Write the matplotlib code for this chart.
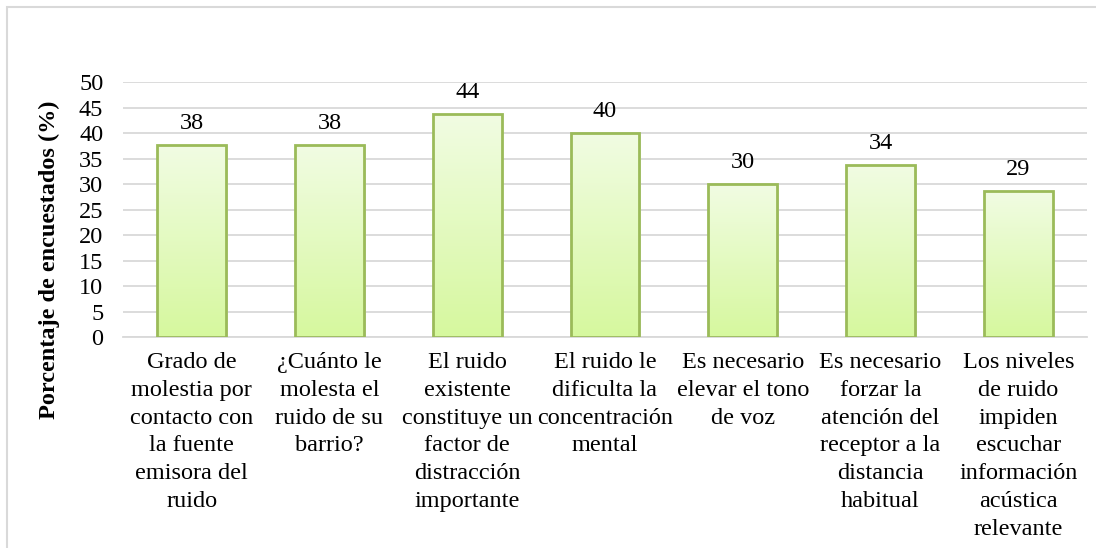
import numpy as np
import matplotlib
matplotlib.use('Agg')
import matplotlib.pyplot as plt
from matplotlib.colors import LinearSegmentedColormap
from matplotlib.patches import Rectangle

plt.rcParams['font.family'] = ['Liberation Serif', 'DejaVu Serif']

CATEGORIES = [
    'Grado de\nmolestia por\ncontacto con\nla fuente\nemisora del\nruido',
    '¿Cuánto le\nmolesta el\nruido de su\nbarrio?',
    'El ruido\nexistente\nconstituye un\nfactor de\ndistracción\nimportante',
    'El ruido le\ndificulta la\nconcentración\nmental',
    'Es necesario\nelevar el tono\nde voz',
    'Es necesario\nforzar la\natención del\nreceptor a la\ndistancia\nhabitual',
    'Los niveles\nde ruido\nimpiden\nescuchar\ninformación\nacústica\nrelevante',
]
VALUES = [37.6, 37.6, 43.8, 40.1, 30.0, 33.8, 28.7]
LABELS = ['38', '38', '44', '40', '30', '34', '29']
Y_TICKS = list(range(0, 55, 5))
Y_TITLE = 'Porcentaje de encuestados (%)'

FS = 17.5
EDGE = '#9BBB59'
GRID = '#D9D9D9'
grad = LinearSegmentedColormap.from_list('g', ['#D6F89E', '#F1FCE3'])


def main():
    fig = plt.figure(figsize=(10.96, 5.48), dpi=100)
    ax = fig.add_axes([0.112, 0.385, 0.880, 0.465])

    x = np.arange(len(VALUES))
    bars = ax.bar(x, VALUES, width=0.5, color='none', edgecolor=EDGE,
                  linewidth=2, zorder=3)

    # vertical gradient fill clipped to each bar
    img = np.linspace(0, 1, 256).reshape(-1, 1)
    for b in bars:
        x0, y0 = b.get_x(), b.get_y()
        w, h = b.get_width(), b.get_height()
        im = ax.imshow(img, cmap=grad, origin='lower', aspect='auto',
                       extent=[x0, x0 + w, y0, y0 + h], zorder=2)
        im.set_clip_path(b)
        # faint shadow on the right
        ax.add_patch(Rectangle((x0 + w, y0), 0.012, h, color='#E4E4E4',
                               lw=0, zorder=1))

    for xi, v, lab in zip(x, VALUES, LABELS):
        ax.annotate(lab, (xi, v), xytext=(0, 11.5), textcoords='offset points',
                    ha='center', va='baseline', fontsize=FS)

    ax.set_xlim(-0.5, len(VALUES) - 0.5)
    ax.set_ylim(0, 50)
    ax.set_yticks(Y_TICKS)
    ax.set_xticks(x)
    ax.set_xticklabels(CATEGORIES, fontsize=FS, linespacing=1.42, va='top')
    ax.tick_params(axis='both', length=0, labelsize=FS)
    ax.tick_params(axis='x', pad=11)
    ax.tick_params(axis='y', pad=14)

    ax.yaxis.grid(True, color=GRID, linewidth=1.3, zorder=0)
    ax.set_axisbelow(True)
    for s in ['top', 'right', 'left']:
        ax.spines[s].set_visible(False)
    ax.spines['bottom'].set_color(GRID)
    ax.spines['bottom'].set_linewidth(1.3)

    fig.text(0.045, 1 - 260 / 548, Y_TITLE, rotation=90, ha='center',
             va='center', fontsize=FS, fontweight='bold')

    # outer chart border
    fig.add_artist(Rectangle((7 / 1096, -0.1), 1.2, 1.1 - 7 / 548,
                             transform=fig.transFigure, fill=False,
                             edgecolor=GRID, linewidth=1.5))

    fig.savefig('out.png', dpi=100)


if __name__ == '__main__':
    main()
